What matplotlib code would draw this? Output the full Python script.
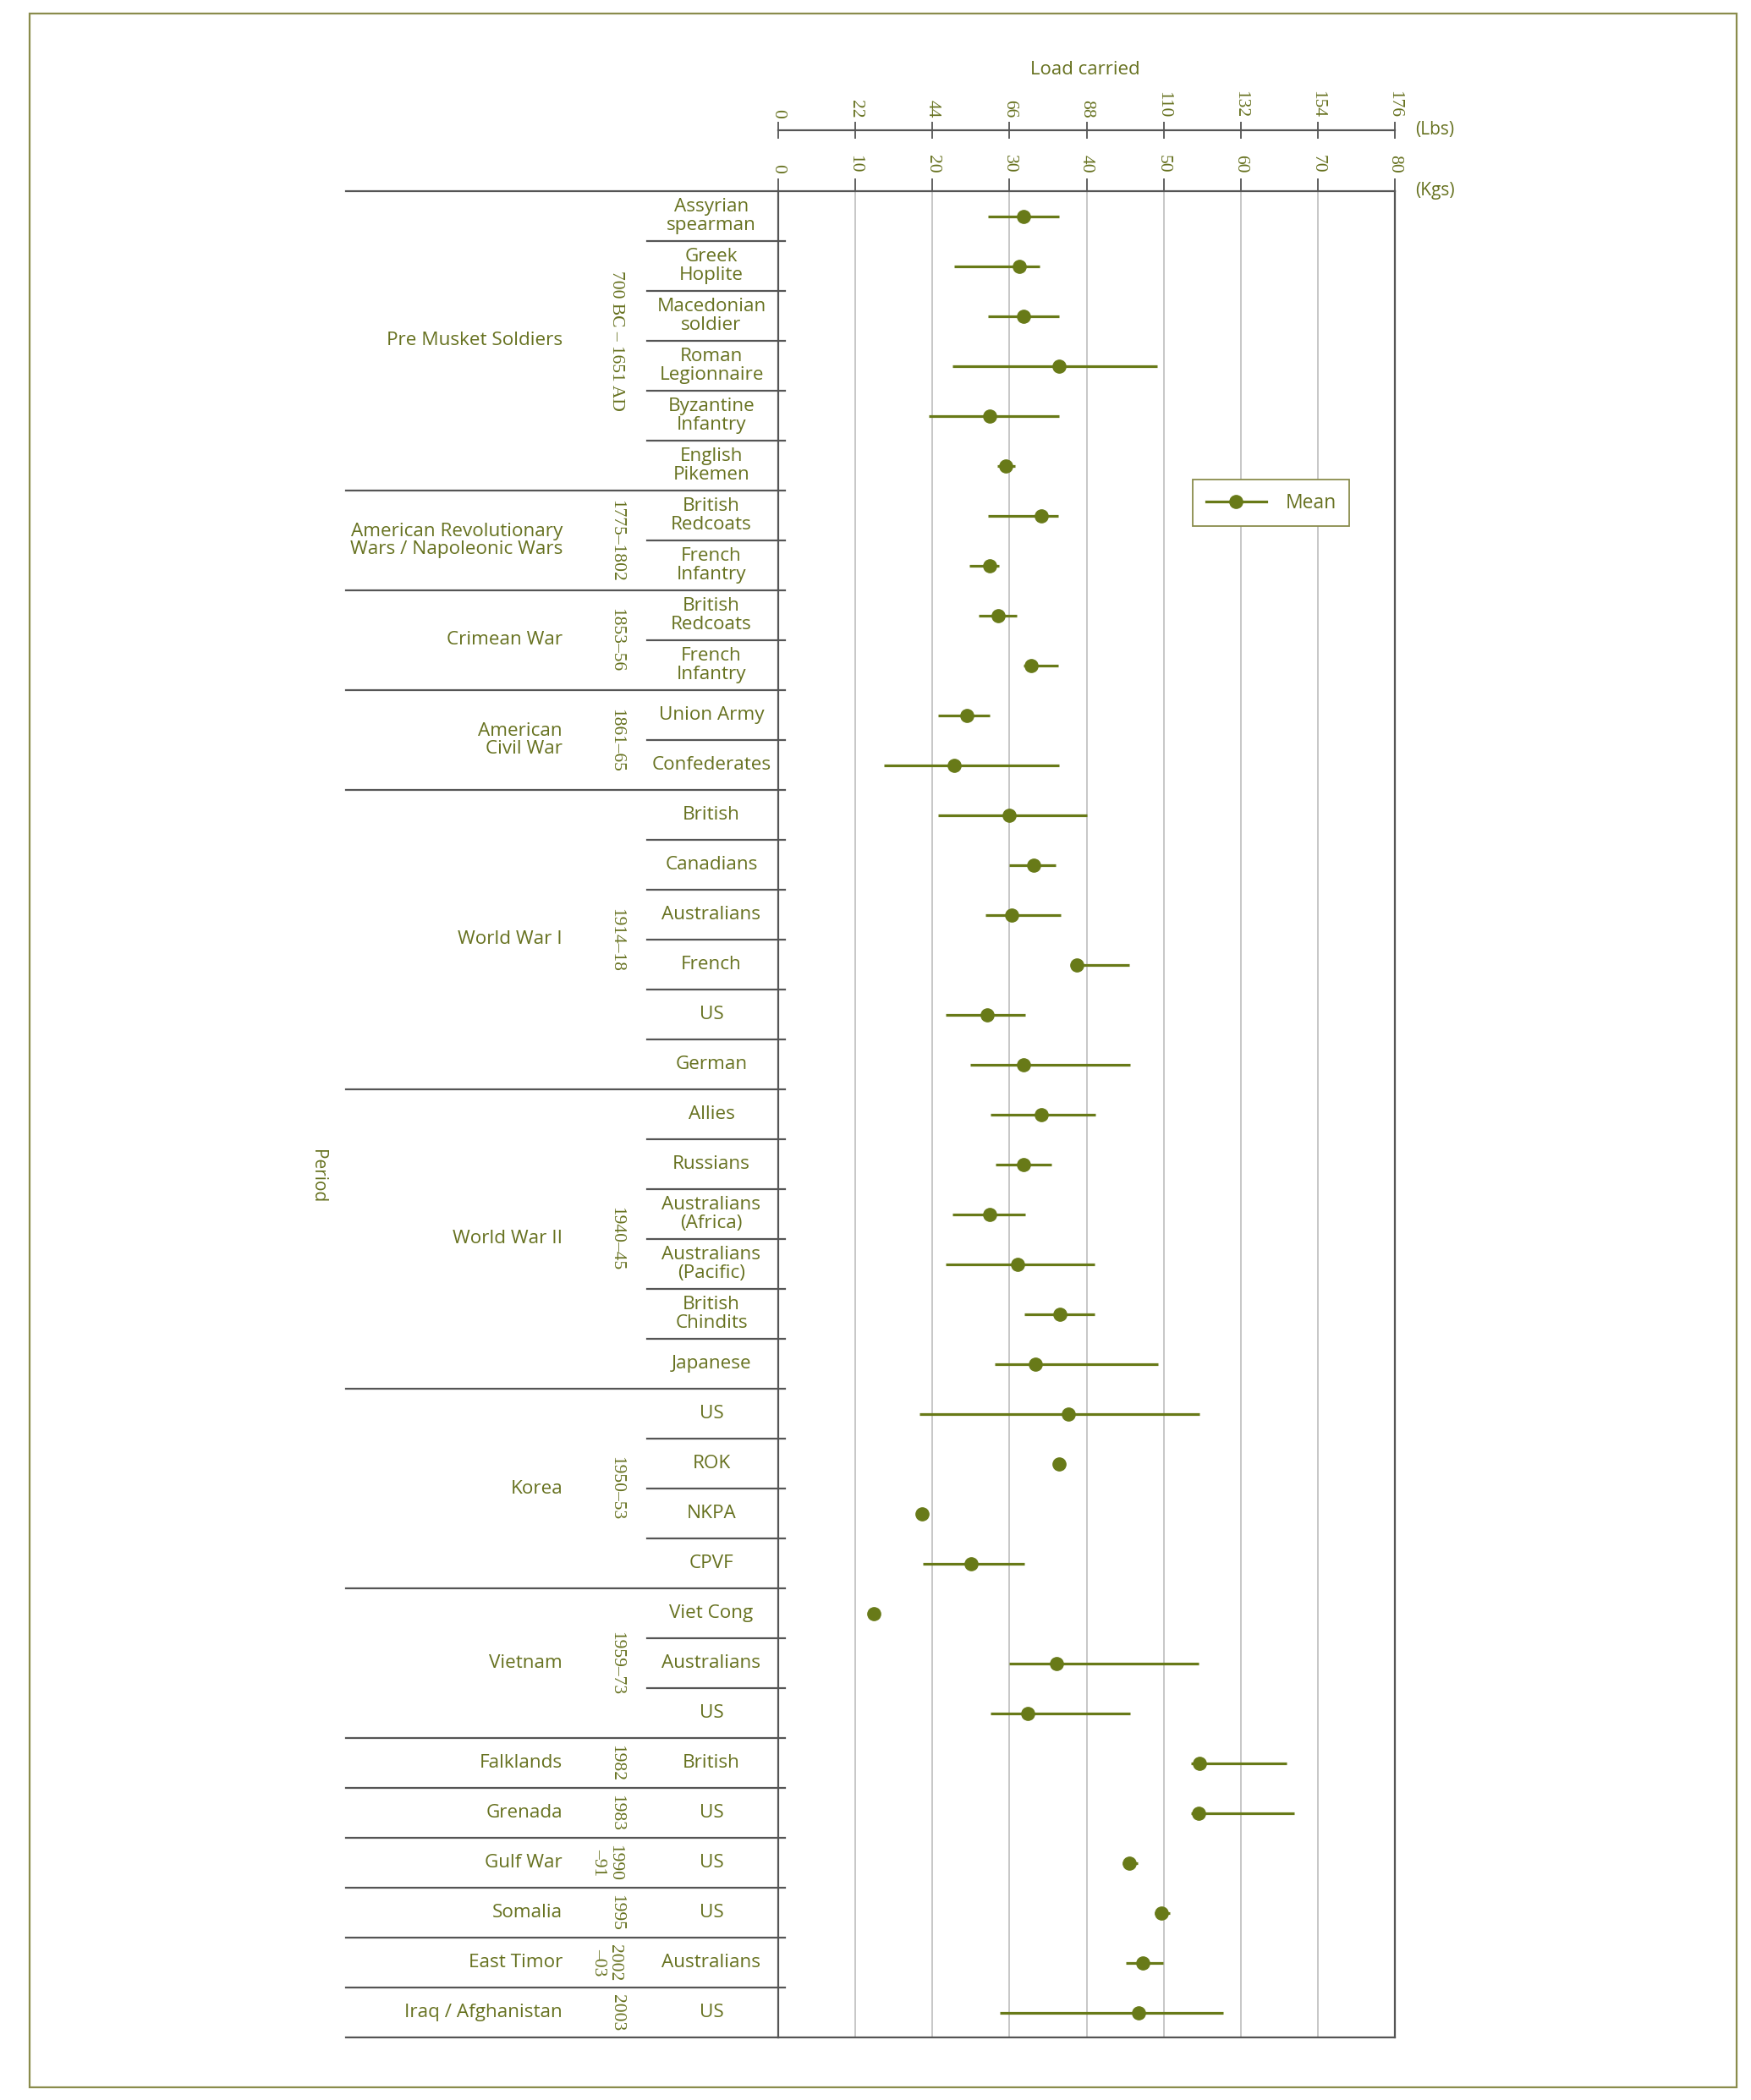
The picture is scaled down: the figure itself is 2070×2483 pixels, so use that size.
import matplotlib
matplotlib.use("Agg")
import matplotlib.pyplot as plt
import numpy as np
from matplotlib import font_manager, transforms
from matplotlib.lines import Line2D
from matplotlib.patches import Rectangle

# ---------------- data ----------------
periods = ["Pre Musket Soldiers", "American Revolutionary\nWars / Napoleonic Wars",
           "Crimean War", "American\nCivil War", "World War I", "World War II",
           "Korea", "Vietnam", "Falklands", "Grenada", "Gulf War", "Somalia",
           "East Timor", "Iraq / Afghanistan"]
years = ["700 BC \u2013 1651 AD", "1775\u20131802", "1853\u201356", "1861\u201365",
         "1914\u201318", "1940\u201345", "1950\u201353", "1959\u201373", "1982", "1983",
         "1990\n\u201391", "1995", "2002\n\u201303", "2003"]
group_sizes = [6, 2, 2, 2, 6, 6, 4, 3, 1, 1, 1, 1, 1, 1]

soldiers = ["Assyrian\nspearman", "Greek\nHoplite", "Macedonian\nsoldier",
            "Roman\nLegionnaire", "Byzantine\nInfantry", "English\nPikemen",
            "British\nRedcoats", "French\nInfantry",
            "British\nRedcoats", "French\nInfantry",
            "Union Army", "Confederates",
            "British", "Canadians", "Australians", "French", "US", "German",
            "Allies", "Russians", "Australians\n(Africa)", "Australians\n(Pacific)",
            "British\nChindits", "Japanese",
            "US", "ROK", "NKPA", "CPVF",
            "Viet Cong", "Australians", "US",
            "British", "US", "US", "US", "Australians", "US"]

mean_kg = [31.8, 31.3, 31.8, 36.4, 27.4, 29.5,
           34.1, 27.4,
           28.5, 32.8,
           24.5, 22.8,
           30.0, 33.1, 30.3, 38.7, 27.1, 31.8,
           34.1, 31.8, 27.4, 31.1, 36.5, 33.4,
           37.6, 36.4, 18.7, 25.0,
           12.4, 36.1, 32.4,
           54.6, 54.5, 45.5, 49.7, 47.3, 46.8]
low_kg = [27.2, 22.8, 27.2, 22.6, 19.5, 28.4,
          27.2, 24.8,
          26.0, 31.8,
          20.7, 13.7,
          20.7, 30.0, 26.9, 38.7, 21.7, 24.9,
          27.5, 28.2, 22.6, 21.7, 31.9, 28.1,
          18.3, 35.9, 18.7, 18.8,
          12.4, 30.0, 27.5,
          53.6, 53.6, 44.7, 48.8, 45.1, 28.7]
high_kg = [36.4, 33.9, 36.4, 49.2, 36.4, 30.7,
           36.3, 28.6,
           31.0, 36.3,
           27.4, 36.4,
           40.0, 36.0, 36.6, 45.5, 32.0, 45.6,
           41.1, 35.4, 32.0, 41.0, 41.0, 49.3,
           54.7, 37.2, 18.7, 31.9,
           12.4, 54.5, 45.6,
           66.0, 66.9, 46.6, 50.8, 49.9, 57.7]

kg_ticks = [0, 10, 20, 30, 40, 50, 60, 70, 80]
lbs_ticks = [0, 22, 44, 66, 88, 110, 132, 154, 176]

# ---------------- style ----------------
names = {f.name for f in font_manager.fontManager.ttflist}
SANS = "Open Sans" if "Open Sans" in names else "DejaVu Sans"
SERIF = "Liberation Serif" if "Liberation Serif" in names else "DejaVu Serif"

OLIVE = "#687a18"
TEXT = "#66711f"
DARK = "#555555"
GRID = "#b8b8b8"
BORDER = "#8a8c4c"

W, H = 2070, 2483


def fx(px):
    return px / W


def fy(py):
    return 1 - py / H


fig = plt.figure(figsize=(W / 100, H / 100), dpi=100)
fig.patch.set_facecolor("white")

ax = fig.add_axes([fx(920), fy(2409), fx(1649) - fx(920), fy(226) - fy(2409)])
n = len(soldiers)
ypos = np.arange(n) + 0.5
mean = np.array(mean_kg)
lo = np.array(low_kg)
hi = np.array(high_kg)

ax.errorbar(mean, ypos, xerr=[mean - lo, hi - mean], fmt="o", color=OLIVE,
            ms=11, elinewidth=2.3, capsize=0, zorder=3)
ax.set_xlim(0, 80)
ax.set_ylim(n, 0)
ax.set_yticks([])
ax.xaxis.tick_top()
ax.set_xticks(kg_ticks, labels=[str(t) for t in kg_ticks], fontfamily=SERIF)
ax.tick_params(axis="x", direction="out", length=10.5, width=1.3, color=DARK,
               pad=5, labelsize=15.5, labelcolor=TEXT, labelrotation=-90)
ax.set_axisbelow(True)
ax.xaxis.grid(True, color=GRID, lw=1.1)
for s in ax.spines.values():
    s.set_color(DARK)
    s.set_linewidth(1.6)

sec = ax.secondary_xaxis(1 + 72 / 2183, functions=(lambda x: x * 2.2, lambda x: x / 2.2))
sec.set_xticks(lbs_ticks, labels=[str(t) for t in lbs_ticks], fontfamily=SERIF)
sec.tick_params(axis="x", direction="inout", length=15, width=1.3, color=DARK,
                pad=3, labelsize=15.5, labelcolor=TEXT, labelrotation=-90)
for s in sec.spines.values():
    s.set_color(DARK)
    s.set_linewidth(1.6)

# axis captions
fig.text(fx(1283), fy(83), "Load carried", ha="center", va="center",
         family=SANS, size=16, color=TEXT)
fig.text(fx(1673), fy(154), "(Lbs)", ha="left", va="center",
         family=SANS, size=15, color=TEXT)
fig.text(fx(1673), fy(226), "(Kgs)", ha="left", va="center",
         family=SANS, size=15, color=TEXT)
fig.text(fx(376), fy(1391), "Period", ha="center", va="center", rotation=-90,
         family=SANS, size=15, color=TEXT)

# row / group labels and separators
trans = transforms.blended_transform_factory(fig.transFigure, ax.transData)
bounds = np.concatenate([[0], np.cumsum(group_sizes)])

for i, lab in enumerate(soldiers):
    ax.text(fx(841), ypos[i], lab, transform=trans, ha="center", va="center",
            family=SANS, size=16.2, color=TEXT, linespacing=1.03)

for g, (p, yr) in enumerate(zip(periods, years)):
    yc = (bounds[g] + bounds[g + 1]) / 2
    ax.text(fx(665), yc, p, transform=trans, ha="right", va="center",
            multialignment="right", family=SANS, size=16.2, color=TEXT,
            linespacing=1.03)
    xoff = 729 if "\n" not in yr else 717
    ax.text(fx(xoff), yc, yr, transform=trans, ha="center", va="center",
            rotation=-90, family=SERIF, size=15.5, color=TEXT, linespacing=1.0)

for k in range(n + 1):
    if k in (0, n):
        xs = [fx(409), fx(920)]
    elif k in bounds:
        xs = [fx(409), fx(928)]
    else:
        xs = [fx(765), fx(928)]
    fig.add_artist(Line2D(xs, [k, k], transform=trans, color=DARK, lw=1.6))

# legend
handle = Line2D([], [], color=OLIVE, marker="o", ms=11, lw=2.3)
leg = ax.legend(handles=[handle], labels=["Mean"], loc="upper left",
                bbox_to_anchor=(fx(1410), fy(567)), bbox_transform=fig.transFigure,
                frameon=True, fancybox=False, framealpha=1, edgecolor=BORDER,
                borderpad=0.68, handlelength=3.1, handletextpad=1.0,
                borderaxespad=0, prop={"family": SANS, "size": 16.5},
                labelcolor=TEXT)
leg.get_frame().set_linewidth(1.3)

# outer frame
fig.add_artist(Rectangle((fx(35), fy(2468)), fx(2053) - fx(35), fy(16) - fy(2468),
                         transform=fig.transFigure, fill=False, edgecolor=BORDER, lw=1.6))

fig.savefig("out.png", dpi=100, facecolor="white")
